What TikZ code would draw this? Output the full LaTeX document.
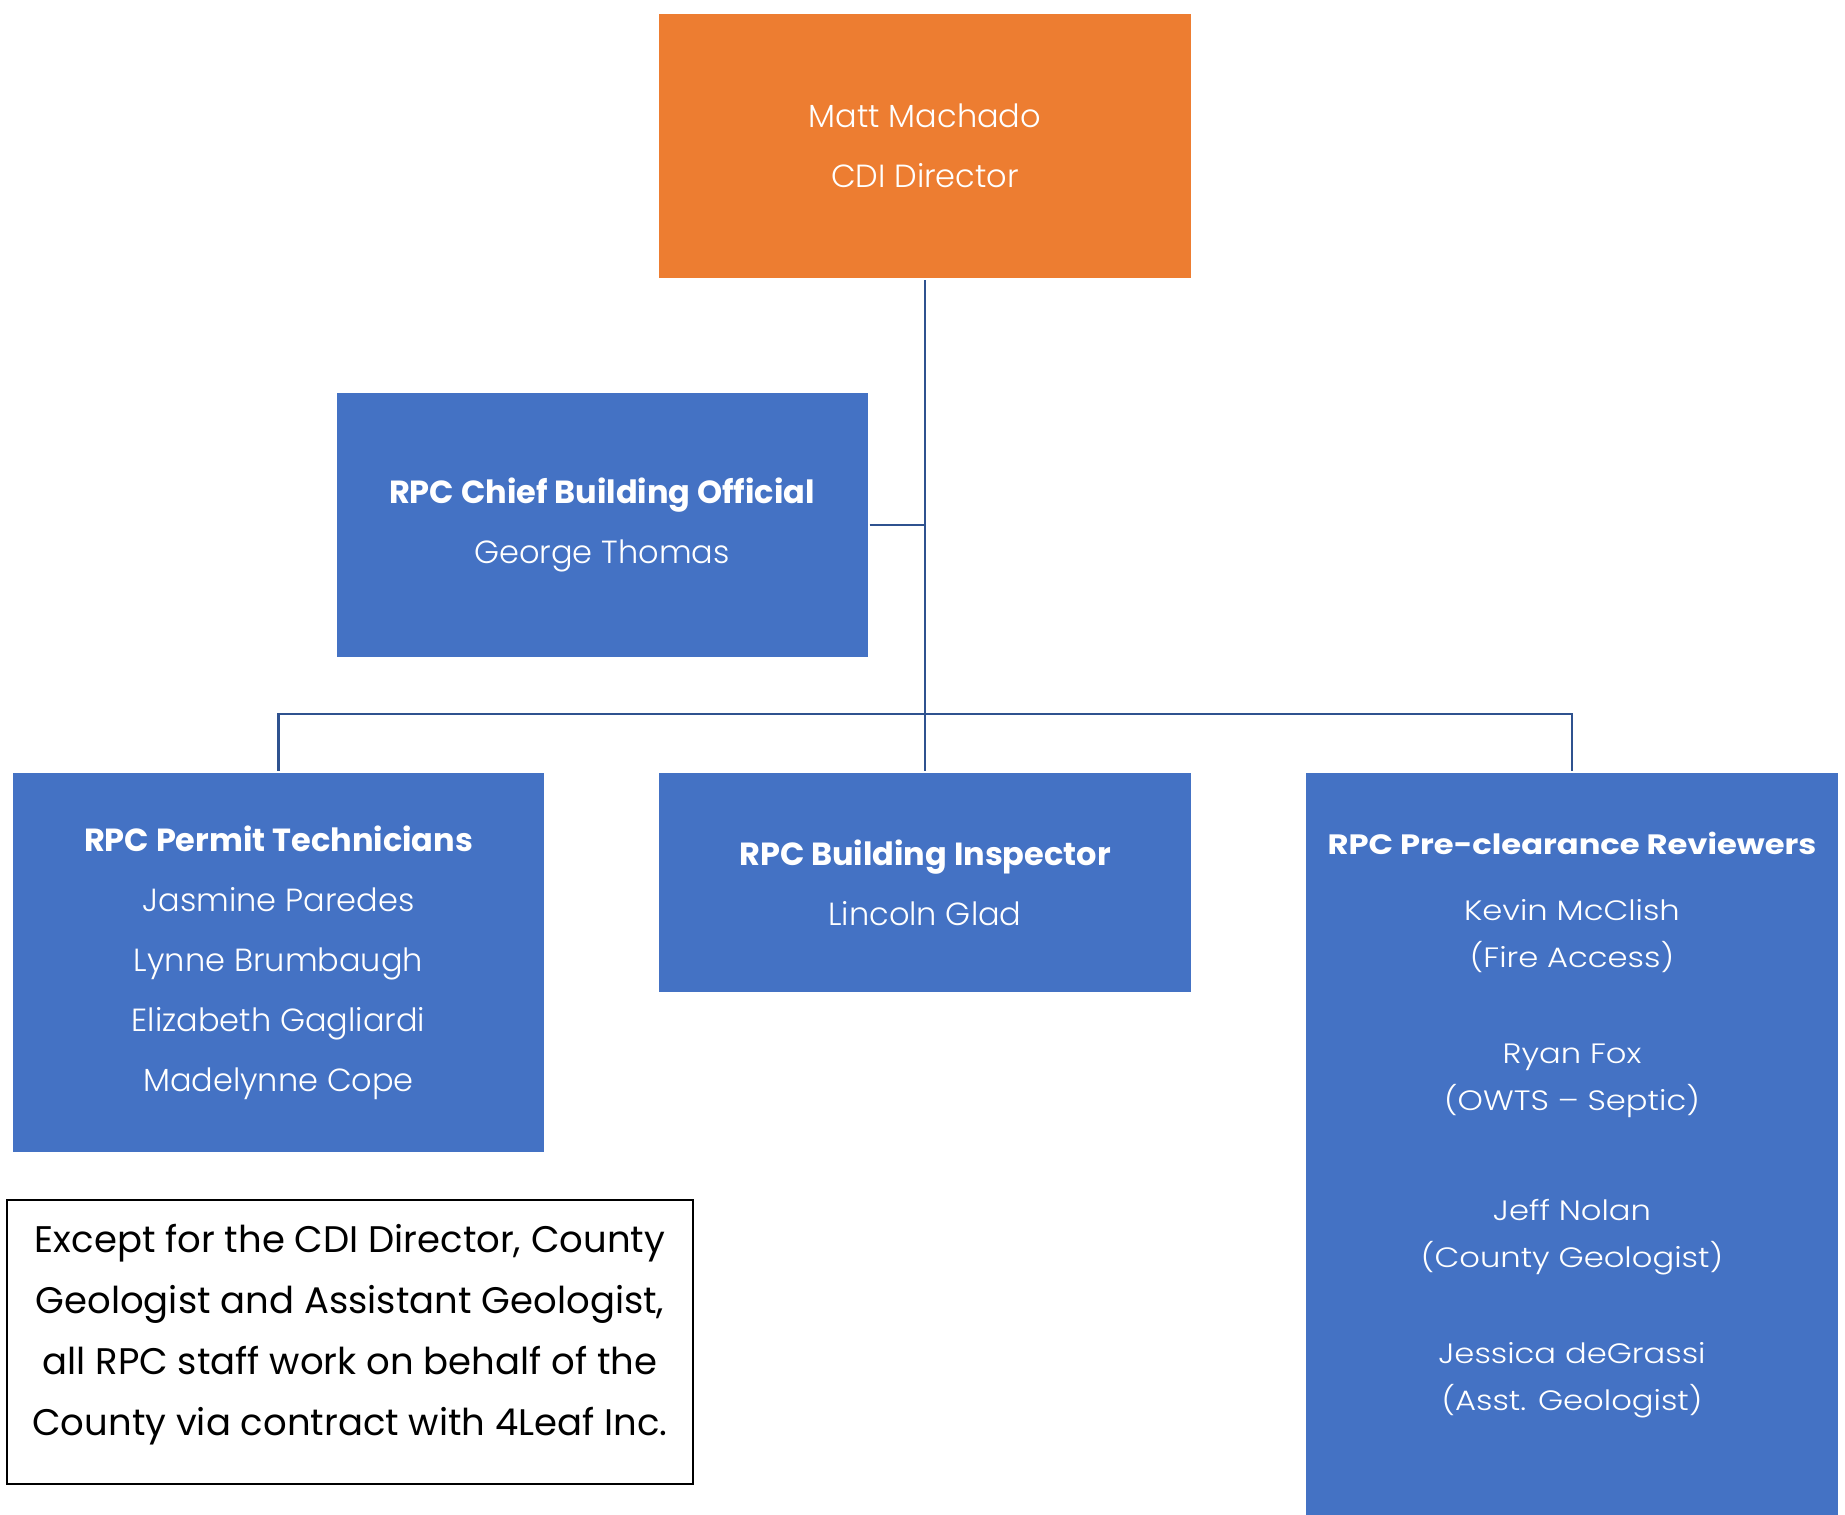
\documentclass[tikz,border=0pt]{standalone}
\usepackage{fontspec}
\usepackage{tikz}
\usetikzlibrary{positioning}
\setmainfont{Poppins}
\newfontfamily\nameFont{Poppins Light}
\newfontfamily\wideFont[FakeStretch=1.15]{Poppins}
\newfontfamily\wideNameFont[FakeStretch=1.15]{Poppins Light}
\tikzstyle{orgChart} = [x = 1pt, y = -1pt]
\definecolor{directorColor}{RGB}{237,125,49}
\definecolor{staffColor}{RGB}{68,114,196}
\definecolor{linkColor}{RGB}{47,82,143}
\tikzstyle{directorBox} = [fill=directorColor, text=white, minimum width=532, minimum height=264, inner sep=0, align=center, font=\nameFont\fontsize{32}{60}\selectfont]
\tikzstyle{staffBox} = [fill=staffColor, text=white, minimum width=531, inner sep=0, align=center, font=\nameFont\fontsize{32}{60}\selectfont]
\tikzstyle{wideText} = [text=white, inner sep=0, align=center, font=\wideNameFont\fontsize{28}{47}\selectfont]
\tikzstyle{linkLine} = [color=linkColor, line width=2.8, shorten <=2, shorten >=2]
\tikzstyle{noteText} = [text=black, inner sep=0, align=center, font=\fontsize{37}{61}\selectfont]
\tikzstyle{noteFrame} = [draw=black, line width=2]
\newcommand{\boxHead}[1]{{\fontspec{Poppins}\bfseries #1}}

\begin{document}
\begin{tikzpicture}[orgChart]
  \useasboundingbox (0,0) rectangle (1845,1515);

  \node [directorBox] (director) at (925,146) {Matt Machado\\CDI Director};
  \node [staffBox, minimum height=264] (chief) at (602,525) {\boxHead{RPC Chief Building Official}\\George Thomas};
  \node [staffBox, minimum height=379] (permit) at (278.5,962.5) {\boxHead{RPC Permit Technicians}\\Jasmine Paredes\\Lynne Brumbaugh\\Elizabeth Gagliardi\\Madelynne Cope};
  \node [staffBox, minimum width=532, minimum height=219] (inspector) at (925,882.5) {\boxHead{RPC Building Inspector}\\Lincoln Glad};
  \node [staffBox, minimum width=532, minimum height=742] (reviewers) at (1572,1144) {};
  \node [wideText, anchor=north] (reviewerNames) at (1572,832) {{\wideFont\bfseries RPC Pre-clearance Reviewers}\\[19pt]
    Kevin McClish\\(Fire Access)\\[49pt]
    Ryan Fox\\(OWTS – Septic)\\[63pt]
    Jeff Nolan\\(County Geologist)\\[49pt]
    Jessica deGrassi\\(Asst. Geologist)};

  % connectors
  \coordinate (branch) at (925,714);
  \draw [linkLine] (director.south) -- (inspector.north);
  \draw [linkLine, shorten >=0] (chief.east) -- (chief.east -| director.south);
  \draw [linkLine, shorten >=0] (permit.north) |- (branch);
  \draw [linkLine, shorten <=0] (branch) -| (reviewers.north);

  % note
  \node [noteText] (note) at (350,1335) {Except for the CDI Director, County\\Geologist and Assistant Geologist,\\all RPC staff work on behalf of the\\County via contract with 4Leaf Inc.};
  \draw [noteFrame] (7,1200) rectangle (693,1484);
\end{tikzpicture}
\end{document}
